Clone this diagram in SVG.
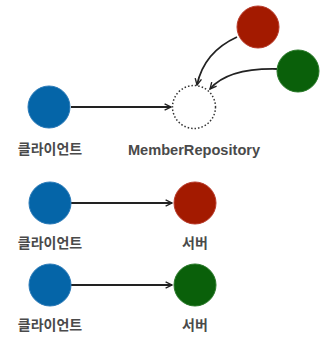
<svg xmlns="http://www.w3.org/2000/svg" width="329" height="353" viewBox="0 0 329 353">
<defs>
<style>
.lbl{font-family:"Liberation Sans","Noto Sans CJK KR",sans-serif;font-weight:bold;font-size:14px;fill:#4a4a4a;text-anchor:middle}
.big{font-size:14.6px}
.blue{fill:#0565a8;stroke:#2a7ab8;stroke-width:1}
.red{fill:#a31a00;stroke:#b83a2a;stroke-width:1}
.green{fill:#0a600a;stroke:#2a7a2a;stroke-width:1}
.edge{fill:none;stroke:#222;stroke-width:1.8}
</style>
<marker id="arr" viewBox="0 0 10 10" refX="9" refY="5" markerWidth="8" markerHeight="8" markerUnits="userSpaceOnUse" orient="auto">
<path d="M1,1 L9,5 L1,9" fill="none" stroke="#222" stroke-width="1.7"/>
</marker>
</defs>
<rect width="329" height="353" fill="#fff"/>
<g id="connectors">
<path class="edge" d="M71,107 L171,107" marker-end="url(#arr)"/>
<path class="edge" d="M237,37 Q204,52 197,85" marker-end="url(#arr)"/>
<path class="edge" d="M277,69 Q228,68 210,89" marker-end="url(#arr)"/>
<path class="edge" d="M71,203 L172,203" marker-end="url(#arr)"/>
<path class="edge" d="M71,285 L172,285" marker-end="url(#arr)"/>
</g>
<g id="client1"><circle class="blue" cx="49" cy="107" r="21"/><text class="lbl" x="50" y="154">클라이언트</text></g>
<g id="repo"><circle cx="194" cy="107" r="21.5" fill="none" stroke="#333" stroke-width="1.5" stroke-dasharray="1.5,2"/><text class="lbl big" x="194" y="155">MemberRepository</text></g>
<g id="server-red"><circle class="red" cx="258" cy="27" r="21"/></g>
<g id="server-green"><circle class="green" cx="298" cy="71" r="21"/></g>
<g id="client2"><circle class="blue" cx="50" cy="203" r="21"/><text class="lbl" x="50" y="248">클라이언트</text></g>
<g id="server2"><circle class="red" cx="195" cy="203" r="21"/><text class="lbl" x="195" y="248">서버</text></g>
<g id="client3"><circle class="blue" cx="50" cy="285" r="21"/><text class="lbl" x="50" y="330">클라이언트</text></g>
<g id="server3"><circle class="green" cx="195" cy="285" r="21"/><text class="lbl" x="195" y="330">서버</text></g>
</svg>
